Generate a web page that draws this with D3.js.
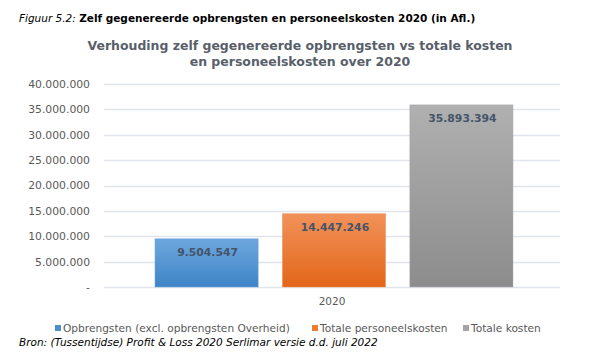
<!DOCTYPE html>
<html><head><meta charset="utf-8">
<script src="https://cdn.jsdelivr.net/npm/d3@7"></script>
<style>body{margin:0;background:#fff}svg{display:block}</style>
</head><body>
<script>
const categories = ["2020"];
const seriesNames = ["Opbrengsten (excl. opbrengsten Overheid)", "Totale personeelskosten", "Totale kosten"];
const seriesValues = [9504547, 14447246, 35893394];
const tickValues = [0, 5000000, 10000000, 15000000, 20000000, 25000000, 30000000, 35000000, 40000000];
const colorsTop = ["#6ea7de", "#f29259", "#b0b0b0"];
const colorsBottom = ["#3e84c6", "#e2661a", "#8c8c8c"];
const legendColors = ["#4a8fd0", "#ed7d31", "#a5a5a5"];

const W = 593, H = 357;
const FONT = "DejaVu Sans, Verdana, sans-serif";
const svg = d3.select("body").append("svg").attr("width", W).attr("height", H);
const defs = svg.append("defs");
seriesNames.forEach((s, i) => {
  const g = defs.append("linearGradient").attr("id", "g" + i).attr("x1", 0).attr("y1", 0).attr("x2", 0).attr("y2", 1);
  g.append("stop").attr("offset", "0%").attr("stop-color", colorsTop[i]);
  g.append("stop").attr("offset", "100%").attr("stop-color", colorsBottom[i]);
});

const fmt = v => v === 0 ? "-" : d3.format(",")(v).replace(/,/g, ".");

// Caption
const cap = svg.append("text").attr("x", 19).attr("y", 22)
  .style("font-family", FONT).style("font-size", "10.5px").attr("fill", "#000");
cap.append("tspan").style("font-style", "italic").text("Figuur 5.2: ");
cap.append("tspan").style("font-weight", "bold").text("Zelf gegenereerde opbrengsten en personeelskosten 2020 (in Afl.)");

// Title
const title = ["Verhouding zelf gegenereerde opbrengsten vs totale kosten", "en personeelskosten over 2020"];
const tt = svg.selectAll(".title").data(title).join("text")
  .attr("x", 300).attr("y", (d, i) => 50 + i * 16)
  .attr("text-anchor", "middle")
  .style("font-family", FONT).style("font-size", "14px").style("font-weight", "bold")
  .attr("fill", "#595f6a").text(d => d);
const tw = tt.node().getComputedTextLength();
const tfs = 14 * 425 / tw;
tt.style("font-size", tfs.toFixed(2) + "px");

// Scales
const y = d3.scaleLinear().domain([0, 40000000]).range([287, 84]);
const x0 = d3.scaleBand().domain(categories).range([104, 560]);
const x1 = d3.scaleBand().domain(seriesNames).range([x0("2020") + 51, x0("2020") + x0.bandwidth() - 47]).paddingInner(0.19);

// Gridlines
svg.append("g").selectAll("line").data(tickValues).join("line")
  .attr("x1", 104).attr("x2", 560)
  .attr("y1", d => Math.round(y(d)) + 0.5).attr("y2", d => Math.round(y(d)) + 0.5)
  .attr("stroke", "#e1e5eb").attr("stroke-width", 1.4);

// Y axis labels
const yAxis = d3.axisLeft(y).tickValues(tickValues).tickFormat(fmt).tickSize(0).tickPadding(0);
const ya = svg.append("g").attr("transform", "translate(90,0)").call(yAxis);
ya.select(".domain").remove();
ya.selectAll("text").style("font-family", FONT).style("font-size", "10.8px").attr("fill", "#595959");

// Bars
svg.append("g").selectAll("rect").data(seriesValues).join("rect")
  .attr("x", (d, i) => x1(seriesNames[i]))
  .attr("y", d => y(d))
  .attr("width", x1.bandwidth())
  .attr("height", d => y(0) - y(d))
  .attr("fill", (d, i) => `url(#g${i})`)
  .attr("stroke", (d, i) => colorsTop[i]).attr("stroke-opacity", 0.6).attr("stroke-width", 0.8);

// Value labels
svg.append("g").selectAll("text").data(seriesValues).join("text")
  .attr("x", (d, i) => x1(seriesNames[i]) + x1.bandwidth() / 2 + 1)
  .attr("y", d => y(d) + 17)
  .attr("text-anchor", "middle")
  .style("font-family", FONT).style("font-size", "10.8px").style("font-weight", "bold")
  .attr("fill", "#44546a").text(d => fmt(d));

// X axis label
const xAxis = d3.axisBottom(x0).tickSize(0).tickPadding(0);
const xa = svg.append("g").attr("transform", "translate(0,298)").call(xAxis);
xa.select(".domain").remove();
xa.selectAll("text").attr("dy", "0.71em").style("font-family", FONT).style("font-size", "10.5px").attr("fill", "#595959");

// Legend
const legendX = [55, 312, 463];
const lg = svg.append("g").selectAll("g").data(seriesNames).join("g")
  .attr("transform", (d, i) => `translate(${legendX[i]},332)`);
lg.append("rect").attr("x", 0).attr("y", -7).attr("width", 6).attr("height", 6).attr("fill", (d, i) => legendColors[i]);
lg.append("text").attr("x", 8).attr("y", 0)
  .style("font-family", FONT).style("font-size", "10.6px").attr("fill", "#595959").text(d => d);

// Source
svg.append("text").attr("x", 19).attr("y", 346)
  .style("font-family", FONT).style("font-size", "10.5px").style("font-style", "italic")
  .attr("fill", "#000").text("Bron: (Tussentijdse) Profit & Loss 2020 Serlimar versie d.d. juli 2022");
</script>
</body></html>
